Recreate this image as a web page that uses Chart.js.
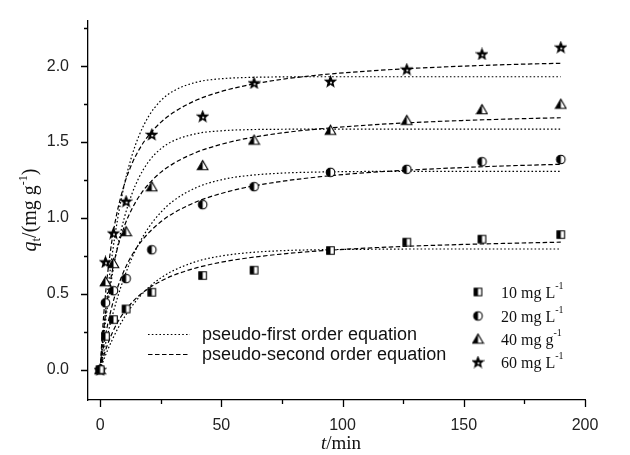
<!DOCTYPE html>
<html>
<head>
<meta charset="utf-8">
<script src="https://cdn.jsdelivr.net/npm/chart.js@4.4.1/dist/chart.umd.min.js"></script>
<style>
  html, body { margin: 0; padding: 0; background: #fff; }
  #wrap { width: 630px; height: 455px; }
</style>
</head>
<body>
<div id="wrap"><canvas id="kinetics" width="630" height="455"></canvas></div>
<script>
// measured points (t in min, q in mg/g)
const times = [0, 2.2, 5.5, 10.7, 21.3, 42.3, 63.5, 95, 126.5, 157.5, 190];
const q10 = [0, 0.22, 0.33, 0.40, 0.51, 0.62, 0.655, 0.785, 0.84, 0.86, 0.89];
const q20 = [0, 0.44, 0.52, 0.60, 0.79, 1.087, 1.206, 1.30, 1.32, 1.37, 1.385];
const q40 = [0, 0.58, 0.70, 0.91, 1.206, 1.346, 1.513, 1.578, 1.643, 1.714, 1.75];
const q60 = [0, 0.71, 0.90, 1.11, 1.55, 1.67, 1.89, 1.90, 1.98, 2.08, 2.125];

// fitted curves
const fitT = [0, 1, 2, 3, 5, 7, 10, 13, 16, 20, 25, 30, 40, 50, 60, 75, 90, 110, 130, 150, 170, 190];
const pfo10 = [0, 0.044, 0.086, 0.125, 0.197, 0.262, 0.345, 0.416, 0.476, 0.541, 0.604, 0.651, 0.714, 0.749, 0.769, 0.784, 0.790, 0.793, 0.795, 0.795, 0.795, 0.795];
const pso10 = [0, 0.062, 0.116, 0.163, 0.242, 0.306, 0.382, 0.440, 0.487, 0.536, 0.583, 0.620, 0.672, 0.708, 0.734, 0.762, 0.782, 0.801, 0.815, 0.825, 0.833, 0.840];
const pfo20 = [0, 0.080, 0.155, 0.225, 0.353, 0.466, 0.611, 0.731, 0.830, 0.936, 1.036, 1.110, 1.202, 1.251, 1.277, 1.295, 1.302, 1.306, 1.307, 1.307, 1.307, 1.307];
const pso20 = [0, 0.111, 0.207, 0.289, 0.425, 0.532, 0.656, 0.751, 0.825, 0.901, 0.974, 1.029, 1.108, 1.161, 1.200, 1.241, 1.270, 1.298, 1.317, 1.332, 1.344, 1.353];
const pfo40 = [0, 0.151, 0.287, 0.411, 0.624, 0.798, 1.002, 1.153, 1.265, 1.371, 1.455, 1.506, 1.556, 1.574, 1.581, 1.584, 1.585, 1.585, 1.585, 1.585, 1.585, 1.585];
const pso40 = [0, 0.186, 0.335, 0.459, 0.650, 0.791, 0.945, 1.056, 1.139, 1.223, 1.300, 1.356, 1.434, 1.485, 1.522, 1.560, 1.586, 1.611, 1.629, 1.642, 1.652, 1.660];
const pfo60 = [0, 0.184, 0.350, 0.500, 0.759, 0.972, 1.220, 1.404, 1.540, 1.669, 1.772, 1.834, 1.895, 1.917, 1.925, 1.929, 1.930, 1.930, 1.930, 1.930, 1.930, 1.930];
const pso60 = [0, 0.257, 0.458, 0.620, 0.863, 1.037, 1.222, 1.352, 1.448, 1.544, 1.629, 1.692, 1.778, 1.833, 1.872, 1.913, 1.941, 1.967, 1.986, 2.000, 2.011, 2.019];

const seriesNames = ['10 mg L', '20 mg L', '40 mg g', '60 mg L'];
const seriesSup = '-1';
const fitNames = ['pseudo-first order equation', 'pseudo-second order equation'];

const xMajor = [0, 50, 100, 150, 200];
const xMinor = [25, 75, 125, 175];
const yMajor = [0, 0.5, 1.0, 1.5, 2.0];
const yMinor = [0.25, 0.75, 1.25, 1.75, 2.25];

const SERIF = '"Liberation Serif", "Times New Roman", serif';
const SANS = '"Liberation Sans", Arial, sans-serif';

// half filled markers drawn on small canvases
function makeMarker(shape) {
    const c = document.createElement('canvas');
    c.width = 13; c.height = 13;
    const g = c.getContext('2d');
    const cx = 6.5, cy = 6.5;
    g.lineWidth = 1.1;
    g.strokeStyle = '#000';
    g.fillStyle = '#fff';
    let path = new Path2D();
    if (shape === 'square') {
        path.rect(cx - 3.8, cy - 3.8, 7.6, 7.6);
    } else if (shape === 'circle') {
        path.arc(cx, cy, 4.3, 0, Math.PI * 2);
    } else if (shape === 'triangle') {
        path.moveTo(cx, cy - 5);
        path.lineTo(cx + 5.3, cy + 4.3);
        path.lineTo(cx - 5.3, cy + 4.3);
        path.closePath();
    } else {
        for (let i = 0; i < 10; i++) {
            const r = i % 2 === 0 ? 5.6 : 2.4;
            const a = -Math.PI / 2 + i * Math.PI / 5;
            const px = cx + r * Math.cos(a), py = cy + 0.5 + r * Math.sin(a);
            if (i === 0) path.moveTo(px, py); else path.lineTo(px, py);
        }
        path.closePath();
    }
    g.fill(path);
    g.save();
    g.clip(path);
    g.fillStyle = '#000';
    if (shape === 'star') {
        g.fillRect(0, 0, 13, 13);
        g.fillStyle = '#fff';
        g.beginPath();
        g.arc(cx + 0.5, cy + 1.2, 1.0, 0, Math.PI * 2);
        g.fill();
    } else {
        g.fillRect(0, 0, cx, 13);
    }
    g.restore();
    g.stroke(path);
    return c;
}

const markers = [makeMarker('square'), makeMarker('circle'), makeMarker('triangle'), makeMarker('star')];

function pts(xs, ys) {
    return xs.map((x, i) => ({ x: x, y: ys[i] }));
}

const dotted = [1.6, 2.2];
const dashed = [4.5, 2.5];

function fitSet(label, ys, dash) {
    return {
        label: label,
        data: pts(fitT, ys),
        showLine: true,
        borderColor: '#000',
        borderWidth: 1.2,
        borderDash: dash,
        pointRadius: 0,
        cubicInterpolationMode: 'monotone',
        order: 2
    };
}

function pointSet(i, ys) {
    return {
        label: seriesNames[i],
        data: pts(times, ys),
        showLine: false,
        pointStyle: markers[i],
        pointRadius: 6,
        order: 0
    };
}

// rich text: parts are drawn one after another, centred on x
function drawParts(ctx, parts, x, y) {
    let total = 0;
    parts.forEach(p => { ctx.font = p.font; total += ctx.measureText(p.text).width; });
    let cur = x - total / 2;
    parts.forEach(p => {
        ctx.font = p.font;
        ctx.fillText(p.text, cur, y + (p.dy || 0));
        cur += ctx.measureText(p.text).width;
    });
}

const decorations = {
    id: 'decorations',
    afterDraw(chart) {
        const ctx = chart.ctx;
        const xs = chart.scales.x, ys = chart.scales.y;
        const area = chart.chartArea;
        ctx.save();
        ctx.strokeStyle = '#000';
        ctx.lineWidth = 1.3;
        ctx.beginPath();
        yMajor.forEach(v => { const p = Math.round(ys.getPixelForValue(v)) + 0.5; ctx.moveTo(area.left, p); ctx.lineTo(area.left - 7, p); });
        yMinor.forEach(v => { const p = Math.round(ys.getPixelForValue(v)) + 0.5; ctx.moveTo(area.left, p); ctx.lineTo(area.left - 4, p); });
        xMajor.forEach(v => { const p = Math.round(xs.getPixelForValue(v)) + 0.5; ctx.moveTo(p, area.bottom); ctx.lineTo(p, area.bottom + 7); });
        xMinor.forEach(v => { const p = Math.round(xs.getPixelForValue(v)) + 0.5; ctx.moveTo(p, area.bottom); ctx.lineTo(p, area.bottom + 4); });
        ctx.stroke();

        ctx.fillStyle = '#111';
        ctx.textBaseline = 'alphabetic';
        ctx.textAlign = 'left';

        // axis titles
        drawParts(ctx, [
            { text: 't', font: 'italic 19px ' + SERIF },
            { text: '/min', font: '19px ' + SERIF }
        ], 341, 449);

        ctx.save();
        ctx.translate(36, 210);
        ctx.rotate(-Math.PI / 2);
        drawParts(ctx, [
            { text: 'q', font: 'italic 20px ' + SERIF },
            { text: 't', font: '13px ' + SERIF, dy: 4 },
            { text: '/(mg g', font: '20px ' + SERIF },
            { text: '-1', font: '12px ' + SERIF, dy: -9 },
            { text: ')', font: '20px ' + SERIF }
        ], 0, 0);
        ctx.restore();

        // series legend
        const rowsY = [292, 316, 339, 362];
        rowsY.forEach((yy, i) => {
            ctx.drawImage(markers[i], 478 - 6.5, yy - 6.5);
            ctx.font = '16px ' + SERIF;
            ctx.fillText(seriesNames[i], 501, yy + 6);
            const w = ctx.measureText(seriesNames[i]).width;
            ctx.font = '10px ' + SERIF;
            ctx.fillText(seriesSup, 501 + w, yy - 3);
        });

        // fit legend
        const lineRows = [334, 354];
        [dotted, dashed].forEach((dash, i) => {
            ctx.setLineDash(dash);
            ctx.lineWidth = 1.2;
            ctx.strokeStyle = '#000';
            ctx.beginPath();
            ctx.moveTo(148, lineRows[i] + 0.5);
            ctx.lineTo(190, lineRows[i] + 0.5);
            ctx.stroke();
            ctx.setLineDash([]);
            ctx.font = '18px ' + SANS;
            ctx.fillText(fitNames[i], 202, lineRows[i] + 6);
        });
        ctx.restore();
    }
};

const ctxKin = document.getElementById('kinetics').getContext('2d');
new Chart(ctxKin, {
    type: 'scatter',
    data: {
        datasets: [
            pointSet(0, q10), pointSet(1, q20), pointSet(2, q40), pointSet(3, q60),
            fitSet('PFO 10', pfo10, dotted), fitSet('PSO 10', pso10, dashed),
            fitSet('PFO 20', pfo20, dotted), fitSet('PSO 20', pso20, dashed),
            fitSet('PFO 40', pfo40, dotted), fitSet('PSO 40', pso40, dashed),
            fitSet('PFO 60', pfo60, dotted), fitSet('PSO 60', pso60, dashed)
        ]
    },
    options: {
        responsive: false,
        animation: false,
        devicePixelRatio: 1,
        layout: { padding: { left: 0, right: 45, top: 15, bottom: 0 } },
        plugins: { legend: { display: false }, tooltip: { enabled: false } },
        scales: {
            x: {
                type: 'linear',
                min: -5,
                max: 200,
                afterBuildTicks: s => { s.ticks = xMajor.map(v => ({ value: v })); },
                afterFit: s => { s.height = 55; },
                grid: { display: false },
                border: { display: true, color: '#000', width: 1.3 },
                ticks: { padding: 8, color: '#222', font: { family: SANS, size: 16 }, callback: v => String(v) }
            },
            y: {
                type: 'linear',
                min: -0.2,
                max: 2.3,
                afterBuildTicks: s => { s.ticks = yMajor.map(v => ({ value: v })); },
                afterFit: s => { s.width = 88; },
                grid: { display: false },
                border: { display: true, color: '#000', width: 1.3 },
                ticks: { padding: 11, color: '#222', font: { family: SANS, size: 16 }, callback: v => Number(v).toFixed(1) }
            }
        }
    },
    plugins: [decorations]
});
</script>
</body>
</html>
